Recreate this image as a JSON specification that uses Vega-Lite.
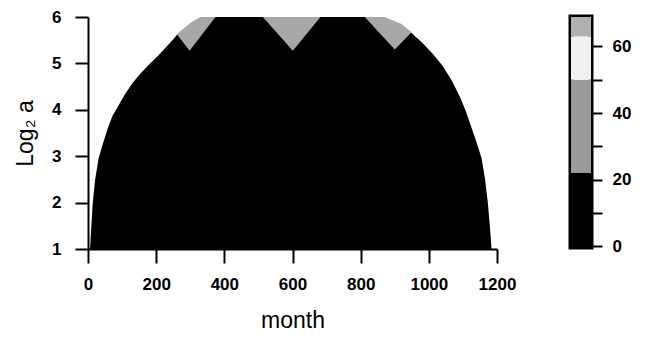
{
  "$schema": "https://vega.github.io/schema/vega-lite/v6.json",
  "background": "white",
  "padding": {"left": 14, "top": 8, "right": 5, "bottom": 5},
  "spacing": 52,
  "config": {
    "font": "Liberation Sans",
    "view": {"stroke": null},
    "axis": {
      "grid": false,
      "domainColor": "black",
      "domainWidth": 2,
      "tickColor": "black",
      "tickWidth": 2,
      "labelColor": "black",
      "labelFont": "Liberation Sans",
      "labelFontWeight": "bold",
      "labelFontSize": 17,
      "titleColor": "black",
      "titleFont": "Liberation Sans",
      "titleFontWeight": "normal",
      "titleFontSize": 23,
      "labelOverlap": false
    }
  },
  "datasets": {
    "dome": [
      {"month": 6, "log2a": 1.0},
      {"month": 9, "log2a": 1.4},
      {"month": 14, "log2a": 2.0},
      {"month": 21, "log2a": 2.5},
      {"month": 31, "log2a": 2.95},
      {"month": 45, "log2a": 3.3},
      {"month": 58, "log2a": 3.6},
      {"month": 72, "log2a": 3.87},
      {"month": 90, "log2a": 4.1},
      {"month": 108, "log2a": 4.33},
      {"month": 130, "log2a": 4.57},
      {"month": 156, "log2a": 4.8},
      {"month": 180, "log2a": 4.98},
      {"month": 205, "log2a": 5.16},
      {"month": 230, "log2a": 5.36},
      {"month": 254, "log2a": 5.55},
      {"month": 262, "log2a": 5.62},
      {"month": 298, "log2a": 5.27},
      {"month": 374, "log2a": 6.0},
      {"month": 513, "log2a": 6.0},
      {"month": 601, "log2a": 5.27},
      {"month": 682, "log2a": 6.0},
      {"month": 812, "log2a": 6.0},
      {"month": 900, "log2a": 5.3},
      {"month": 948, "log2a": 5.66},
      {"month": 980, "log2a": 5.45},
      {"month": 1012, "log2a": 5.2},
      {"month": 1040, "log2a": 4.95},
      {"month": 1066, "log2a": 4.65},
      {"month": 1090, "log2a": 4.3},
      {"month": 1107, "log2a": 4.0},
      {"month": 1125, "log2a": 3.62},
      {"month": 1140, "log2a": 3.3},
      {"month": 1155, "log2a": 2.95},
      {"month": 1165, "log2a": 2.5},
      {"month": 1173, "log2a": 2.0},
      {"month": 1179, "log2a": 1.5},
      {"month": 1184, "log2a": 1.0}
    ],
    "peaks": [
      {"month": 245, "log2a": 5.47},
      {"month": 262, "log2a": 5.64},
      {"month": 300, "log2a": 5.87},
      {"month": 330, "log2a": 6.0},
      {"month": 870, "log2a": 6.0},
      {"month": 920, "log2a": 5.85},
      {"month": 948, "log2a": 5.68},
      {"month": 958, "log2a": 5.58}
    ],
    "bar": [
      {"lo": -0.15, "hi": 22, "power": 11},
      {"lo": 22, "hi": 50, "power": 36},
      {"lo": 50, "hi": 63, "power": 56},
      {"lo": 63, "hi": 68.8, "power": 66}
    ]
  },
  "hconcat": [
    {
      "width": 409,
      "height": 232,
      "layer": [
        {
          "data": {"name": "peaks"},
          "mark": {"type": "area", "color": "#a8a8a8", "clip": true},
          "encoding": {
            "x": {"field": "month", "type": "quantitative"},
            "y": {"field": "log2a", "type": "quantitative"},
            "y2": {"datum": 1}
          }
        },
        {
          "data": {"name": "dome"},
          "mark": {"type": "area", "color": "black", "clip": true},
          "encoding": {
            "x": {
              "field": "month", "type": "quantitative",
              "scale": {"domain": [0, 1200], "nice": false, "zero": false},
              "axis": {
                "title": "month",
                "format": "d",
                "values": [0, 200, 400, 600, 800, 1000, 1200],
                "tickSize": 14,
                "labelPadding": 13,
                "labelFlush": false,
                "titlePadding": 17
              }
            },
            "y": {
              "field": "log2a", "type": "quantitative",
              "scale": {"domain": [1, 6], "nice": false, "zero": false},
              "axis": {
                "title": "Log₂ a",
                "values": [1, 2, 3, 4, 5, 6],
                "tickSize": 13,
                "labelPadding": 14,
                "titlePadding": 14
              }
            },
            "y2": {"datum": 1}
          }
        }
      ]
    },
    {
      "width": 20,
      "height": 230,
      "view": {"stroke": "black", "strokeWidth": 5},
      "data": {"name": "bar"},
      "mark": {"type": "rect"},
      "encoding": {
        "y": {
          "field": "lo", "type": "quantitative",
          "scale": {"domain": [-0.15, 68.8], "nice": false, "zero": false},
          "axis": {
            "orient": "right",
            "title": null,
            "domain": false,
            "values": [0, 10, 20, 30, 40, 50, 60],
            "labelExpr": "datum.value % 20 === 0 ? datum.label : ''",
            "tickSize": 11,
            "labelPadding": 10
          }
        },
        "y2": {"field": "hi"},
        "color": {
          "field": "power", "type": "quantitative",
          "scale": {"type": "threshold", "domain": [22, 50, 63], "range": ["#000000", "#9a9a9a", "#f0f0f0", "#b0b0b0"]},
          "legend": null
        }
      }
    }
  ]
}
